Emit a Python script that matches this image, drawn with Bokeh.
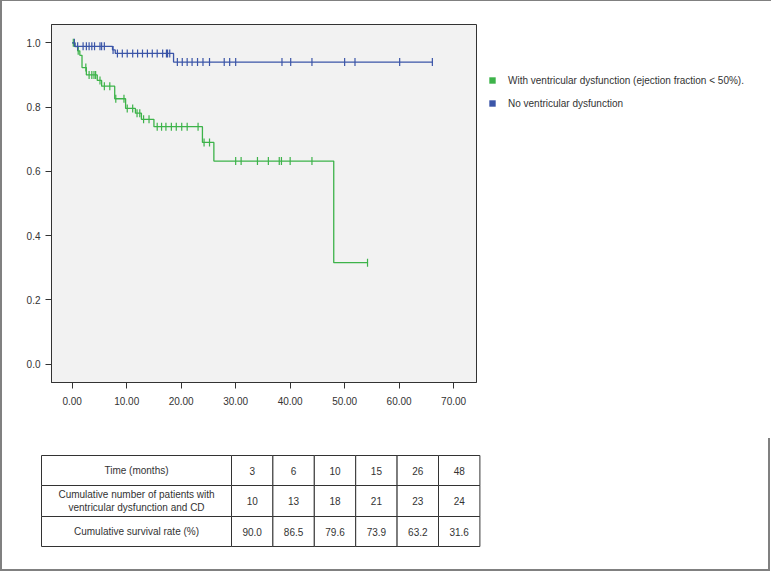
import numpy as np
from bokeh.plotting import figure
from bokeh.models import Range1d, Legend, LegendItem, FixedTicker, NumeralTickFormatter
from bokeh.embed import file_html
from bokeh.resources import INLINE
from bokeh.core.properties import value

# ---------------- data ----------------
# With ventricular dysfunction (green)
dys_event_times = [0.0, 0.5, 1.0, 1.4, 1.8, 2.6, 4.6, 5.4, 7.8, 9.8, 11.6, 12.7, 15.0, 23.9, 26.0, 48.0]
dys_survival = [1.0, 0.988, 0.975, 0.961, 0.923, 0.900, 0.883, 0.865, 0.826, 0.796, 0.781, 0.762, 0.739, 0.690, 0.632, 0.316]
dys_end_time = 54.3
dys_censored = [0.2, 1.1, 2.5, 3.1, 3.6, 4.0, 4.3, 5.1, 5.9, 6.9, 8.0, 9.5, 10.1, 11.1, 11.9, 12.4,
                13.1, 14.1, 15.6, 16.4, 17.2, 18.2, 19.1, 20.1, 21.1, 23.1, 24.2, 25.2, 30.0, 31.0,
                34.0, 36.0, 38.0, 38.4, 40.0, 44.0, 54.2]

# No ventricular dysfunction (blue)
nodys_event_times = [0.0, 0.5, 7.4, 7.9, 18.6]
nodys_survival = [1.0, 0.989, 0.978, 0.967, 0.940]
nodys_end_time = 66.2
nodys_censored = [0.4, 1.0, 2.0, 2.6, 3.1, 3.6, 4.1, 5.1, 5.4, 5.9, 7.5, 8.3, 9.2, 10.1, 11.1, 12.0,
                  12.9, 13.8, 14.7, 15.6, 16.6, 17.3, 17.5, 17.9, 19.3, 20.2, 21.1, 22.0, 23.0, 24.0,
                  25.2, 27.9, 28.9, 30.0, 38.5, 40.1, 44.0, 50.0, 51.9, 60.1, 66.1]

series_labels = ["With ventricular dysfunction (ejection fraction < 50%).", "No ventricular dysfunction"]
x_ticks = [0, 10, 20, 30, 40, 50, 60, 70]
y_ticks = [0.0, 0.2, 0.4, 0.6, 0.8, 1.0]

# table
table_row_labels = ["Time (months)",
                    "Cumulative number of patients with\nventricular dysfunction and CD",
                    "Cumulative survival rate (%)"]
time_months = [3, 6, 10, 15, 26, 48]
cum_patients = [10, 13, 18, 21, 23, 24]
cum_survival = [90.0, 86.5, 79.6, 73.9, 63.2, 31.6]

# ---------------- styles ----------------
GREEN = "#3DB34A"
BLUE = "#3B55A8"
FONT = "Liberation Sans"
TXT = "#333333"
EDGE = "#808080"
PAGE_W = 770

p = figure(frame_width=425, frame_height=358, output_backend="svg", toolbar_location=None,
           x_range=Range1d(-3.8, 74.2), y_range=Range1d(-0.057, 1.057),
           min_border_left=51, min_border_right=PAGE_W - 51 - 425, min_border_top=24, min_border_bottom=56,
           styles={"background-color": "white",
                   "box-shadow": f"inset 2px 1px 0 {EDGE}, inset -2px 0 0 {EDGE}"})
p.background_fill_color = "#F2F2F2"
p.border_fill_alpha = 0
p.outline_line_color = "#333333"
p.outline_line_width = 1
p.xgrid.visible = False
p.ygrid.visible = False

for ax, ticks, fmt, standoff in ((p.xaxis[0], x_ticks, "0.00", 8), (p.yaxis[0], y_ticks, "0.0", 5)):
    ax.ticker = FixedTicker(ticks=ticks)
    ax.formatter = NumeralTickFormatter(format=fmt)
    ax.major_tick_out = 6
    ax.major_tick_in = 0
    ax.minor_tick_line_color = None
    ax.axis_line_color = "#333333"
    ax.major_tick_line_color = "#333333"
    ax.major_label_text_font = FONT
    ax.major_label_text_font_size = "10px"
    ax.major_label_text_color = TXT
    ax.major_label_standoff = standoff


def step_and_censor(times, surv, end, cens, color):
    xs = list(times) + [end]
    ys = list(surv) + [surv[-1]]
    p.step(xs, ys, mode="after", line_color=color, line_width=1.3)
    idx = np.searchsorted(np.array(times), np.array(cens), side="right") - 1
    cy = np.array(surv)[idx]
    p.scatter(cens, cy, marker="dash", angle=np.pi / 2, size=8, line_color=color, line_width=1.2)


step_and_censor(dys_event_times, dys_survival, dys_end_time, dys_censored, GREEN)
step_and_censor(nodys_event_times, nodys_survival, nodys_end_time, nodys_censored, BLUE)

g_dummy = p.quad(left=[np.nan], right=[np.nan], top=[np.nan], bottom=[np.nan], fill_color=GREEN, line_color=None)
b_dummy = p.quad(left=[np.nan], right=[np.nan], top=[np.nan], bottom=[np.nan], fill_color=BLUE, line_color=None)
legend = Legend(items=[LegendItem(label=series_labels[0], renderers=[g_dummy]),
                       LegendItem(label=series_labels[1], renderers=[b_dummy])],
                location=(12, 269), glyph_width=8, glyph_height=8, label_height=20,
                spacing=3, label_standoff=12, padding=0, margin=12,
                border_line_color=None, background_fill_alpha=0,
                label_text_font=FONT, label_text_font_size="10px", label_text_color=TXT)
p.add_layout(legend, "right")

# ---------------- table ----------------
TW, TH = PAGE_W, 133
t = figure(width=TW, height=TH, output_backend="svg", toolbar_location=None,
           x_range=Range1d(0, TW), y_range=Range1d(TH, 0),
           x_axis_type=None, y_axis_type=None,
           min_border=0, min_border_left=0, min_border_right=0, min_border_top=0, min_border_bottom=0,
           styles={"background-color": "white",
                   "box-shadow": f"inset 2px -2px 0 {EDGE}, inset -2px 0 0 {EDGE}"})
t.grid.visible = False
t.outline_line_color = None
t.background_fill_alpha = 0
t.border_fill_alpha = 0

TABLE_LEFT, TABLE_TOP = 41, 17
FIRST_COL_W, COL_W = 190, 41.4
ROW_H = [30, 31, 30]

col_edges = [TABLE_LEFT, TABLE_LEFT + FIRST_COL_W] + [TABLE_LEFT + FIRST_COL_W + COL_W * (k + 1) for k in range(len(time_months))]
row_edges = [TABLE_TOP]
for h in ROW_H:
    row_edges.append(row_edges[-1] + h)

rows = [table_row_labels[0:1] + [str(v) for v in time_months],
        table_row_labels[1:2] + [str(v) for v in cum_patients],
        table_row_labels[2:3] + [f"{v:.1f}" for v in cum_survival]]

L, R, T, B, tx, ty, tt = [], [], [], [], [], [], []
for ri, row in enumerate(rows):
    for ci, txt in enumerate(row):
        L.append(col_edges[ci]); R.append(col_edges[ci + 1])
        T.append(row_edges[ri]); B.append(row_edges[ri + 1])
        tx.append((col_edges[ci] + col_edges[ci + 1]) / 2)
        ty.append((row_edges[ri] + row_edges[ri + 1]) / 2)
        tt.append(txt)

t.quad(left=L, right=R, top=T, bottom=B, fill_color="white", line_color="#333333", line_width=1)
t.text(x=tx, y=ty, text=tt, text_align="center", text_baseline="middle",
       text_font=value(FONT), text_font_size=value("10px"), text_color=TXT, text_line_height=1.25)

open("out.html", "w").write(file_html([p, t], INLINE))
